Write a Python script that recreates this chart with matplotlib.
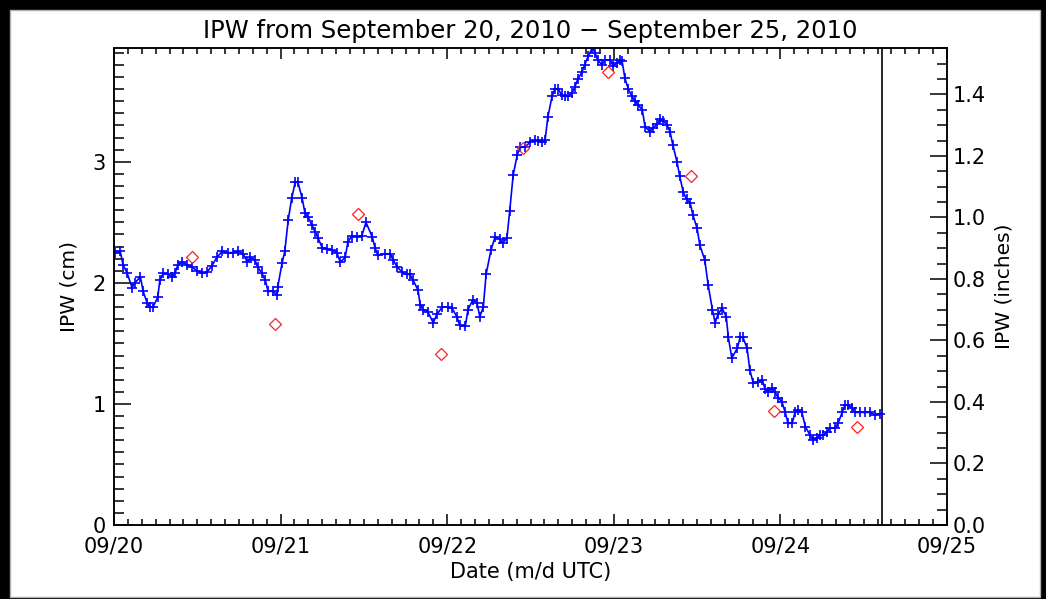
import matplotlib
matplotlib.use("Agg")
import matplotlib.pyplot as plt
from matplotlib.ticker import MultipleLocator, FixedLocator, FormatStrFormatter
from matplotlib.patches import Rectangle

# ---- data (hours since 2010-09-20 00 UTC) ----
gps_hours = [0.1, 0.9, 1.3, 1.9, 2.6, 3.0, 3.8, 4.2, 4.8, 5.2, 5.6, 6.3, 6.6, 7.1, 7.8, 8.4, 8.8, 9.2, 9.8,
             10.5, 11.2, 12.0, 12.7, 13.4, 14.1, 14.8, 15.6, 16.4, 17.1, 17.9, 18.6, 19.2, 19.6, 20.3, 20.7,
             21.3, 21.8, 22.2, 22.9, 23.5, 23.6, 24.2, 24.6, 25.1, 25.6, 26.1, 26.5, 27.1, 27.5, 28.0, 28.5,
             29.0, 29.4, 30.0, 30.7, 31.4, 32.1, 32.6, 33.3, 33.7, 34.3, 35.0, 35.7, 36.3, 37.2, 37.6, 38.0,
             39.0, 39.8, 40.2, 40.8, 41.5, 42.2, 42.6, 43.1, 43.8, 44.1, 44.5, 45.2, 46.0, 46.5, 47.3, 48.1,
             48.7, 49.4, 49.8, 50.6, 51.0, 51.7, 52.3, 52.7, 53.2, 53.6, 54.3, 54.9, 55.6, 56.0, 56.6,
             57.0, 57.5, 58.1, 58.5, 59.2, 59.9, 60.6, 61.1, 61.7, 62.1, 62.5, 63.1, 63.5, 64.0, 64.5, 65.0,
             65.4, 66.0, 66.4, 66.8, 67.4, 67.8, 68.3, 68.9, 69.3, 69.7, 70.3, 70.7, 71.5, 71.9, 72.5, 72.9,
             73.2, 73.6, 74.1, 74.6, 75.1, 75.5, 76.1, 76.5, 77.2, 77.7, 78.2, 78.7, 79.1, 79.7, 80.1, 80.5,
             81.1, 81.5, 82.0, 82.5, 83.0, 83.4, 84.0, 84.4, 85.1, 85.6, 86.2, 86.6, 87.0, 87.6, 88.2, 88.5,
             89.0, 89.8, 90.2, 90.6, 91.2, 91.6, 92.1, 92.8, 93.4, 93.8, 94.2, 94.8, 95.2, 95.7, 96.2, 96.7,
             97.1, 97.7, 98.1, 98.5, 99.1, 99.6, 100.3, 100.7, 101.3, 101.7, 102.1, 102.7, 103.2, 103.9,
             104.3, 104.9, 105.3, 105.7, 106.3, 106.8, 107.5, 108.2, 108.9, 109.6, 110.4]
gps_ipw_cm = [2.25, 2.26, 2.15, 2.08, 1.96, 2.00, 2.05, 1.93, 1.83, 1.80, 1.80, 1.88, 2.02, 2.08, 2.07, 2.05, 2.08, 2.15, 2.17,
              2.15, 2.13, 2.10, 2.08, 2.09, 2.14, 2.21, 2.26, 2.25, 2.25, 2.26, 2.24, 2.17, 2.21, 2.19, 2.13,
              2.08, 2.02, 1.93, 1.93, 1.90, 1.97, 2.16, 2.26, 2.52, 2.70, 2.83, 2.83, 2.70, 2.58, 2.54, 2.48,
              2.42, 2.37, 2.29, 2.28, 2.27, 2.25, 2.17, 2.21, 2.34, 2.39, 2.38, 2.39, 2.50, 2.38, 2.29, 2.23,
              2.24, 2.24, 2.19, 2.13, 2.09, 2.07, 2.07, 2.02, 1.94, 1.82, 1.78, 1.76, 1.67, 1.74, 1.80, 1.80,
              1.79, 1.72, 1.65, 1.64, 1.78, 1.86, 1.83, 1.72, 1.80, 2.07, 2.27, 2.38, 2.36, 2.33, 2.37,
              2.59, 2.89, 3.06, 3.12, 3.12, 3.16, 3.18, 3.17, 3.16, 3.18, 3.37, 3.54, 3.60, 3.60, 3.55, 3.54,
              3.54, 3.57, 3.62, 3.68, 3.74, 3.80, 3.87, 3.94, 3.90, 3.84, 3.80, 3.84, 3.84, 3.79, 3.82, 3.84,
              3.83, 3.69, 3.60, 3.54, 3.50, 3.47, 3.43, 3.29, 3.25, 3.28, 3.31, 3.35, 3.34, 3.30, 3.25, 3.14,
              3.00, 2.88, 2.75, 2.69, 2.66, 2.56, 2.45, 2.31, 2.19, 1.98, 1.78, 1.67, 1.74, 1.79, 1.72, 1.55,
              1.38, 1.46, 1.55, 1.55, 1.46, 1.28, 1.17, 1.18, 1.20, 1.12, 1.10, 1.13, 1.10, 1.05, 1.02, 0.93,
              0.84, 0.84, 0.93, 0.95, 0.93, 0.81, 0.74, 0.70, 0.72, 0.74, 0.74, 0.77, 0.80, 0.80,
              0.84, 0.93, 0.99, 0.99, 0.97, 0.93, 0.93, 0.93, 0.93, 0.91, 0.92]

sonde_hours = [11.2, 23.2, 35.2, 47.1, 58.9, 71.2, 83.1, 95.1, 107.0]
sonde_ipw_cm = [2.21, 1.66, 2.57, 1.41, 3.11, 3.74, 2.88, 0.94, 0.81]

now_hour = 110.6
day_ticks = [0, 24, 48, 72, 96, 120]
day_labels = ["09/20", "09/21", "09/22", "09/23", "09/24", "09/25"]
ymax_cm = 3.94
inch_ticks = [0.0, 0.2, 0.4, 0.6, 0.8, 1.0, 1.2, 1.4]

title = "IPW from September 20, 2010 \u2212 September 25, 2010"

plt.rcParams['font.family'] = ['DejaVu Sans']

W, H = 1046, 599
fig = plt.figure(figsize=(W / 100, H / 100), dpi=100)
fig.patch.set_facecolor("black")

# background frame: black border with white panel
bg = fig.add_axes([0, 0, 1, 1], zorder=-10)
bg.set_xlim(0, W)
bg.set_ylim(H, 0)
bg.axis("off")
bg.add_patch(Rectangle((10, 10), 1030, H - 12, facecolor="white", edgecolor="#b0b0b0", linewidth=1.0))

ax = fig.add_axes([114 / W, 1 - 525 / H, (947 - 114) / W, (525 - 48) / H], zorder=1)
ax.set_facecolor("white")

ax.plot(gps_hours, gps_ipw_cm, color="#0000ff", linewidth=1.2, marker="+", markersize=6.5,
        markeredgewidth=1.2, clip_on=True, zorder=3)
ax.plot(sonde_hours, sonde_ipw_cm, linestyle="none", marker="D", markersize=6,
        markerfacecolor="none", markeredgecolor="#ff2020", markeredgewidth=0.9, zorder=4)
ax.axvline(now_hour, color="black", linewidth=1.2, zorder=2)

ax.set_xlim(0, 120)
ax.set_ylim(0, ymax_cm)
ax.xaxis.set_major_locator(FixedLocator(day_ticks))
ax.set_xticklabels(day_labels)
ax.xaxis.set_minor_locator(MultipleLocator(2))
ax.yaxis.set_major_locator(MultipleLocator(1))
ax.yaxis.set_minor_locator(MultipleLocator(0.1))
ax.yaxis.set_major_formatter(FormatStrFormatter("%d"))

lbl_size = 15
ax.tick_params(axis="x", which="major", direction="in", length=8, width=1.1, top=True,
               labelsize=lbl_size, pad=8, colors="black")
ax.tick_params(axis="x", which="minor", direction="in", length=4.3, width=1.1, top=True)
ax.tick_params(axis="y", which="major", direction="in", length=12, width=1.1, right=False,
               labelsize=lbl_size, pad=6)
ax.tick_params(axis="y", which="minor", direction="in", length=7, width=1.1, right=False)
for s in ax.spines.values():
    s.set_linewidth(1.1)
    s.set_color("black")

ax.set_xlabel("Date (m/d UTC)", fontsize=15, labelpad=4)
ax.set_ylabel("IPW (cm)", fontsize=14.5, labelpad=10)
ax.set_title(title, fontsize=17.5, pad=7)

ax2 = ax.twinx()
ax2.set_ylim(0, ymax_cm / 2.54)
ax2.yaxis.set_major_locator(FixedLocator(inch_ticks))
ax2.yaxis.set_minor_locator(MultipleLocator(0.05))
ax2.yaxis.set_major_formatter(FormatStrFormatter("%.1f"))
ax2.tick_params(axis="y", which="major", direction="in", length=12, width=1.1, labelsize=lbl_size, pad=4)
ax2.tick_params(axis="y", which="minor", direction="in", length=7, width=1.1)
ax2.set_ylabel("IPW (inches)", fontsize=14.5, labelpad=6)
for s in ax2.spines.values():
    s.set_linewidth(1.1)

fig.savefig("out.png", dpi=100, facecolor=fig.get_facecolor())
